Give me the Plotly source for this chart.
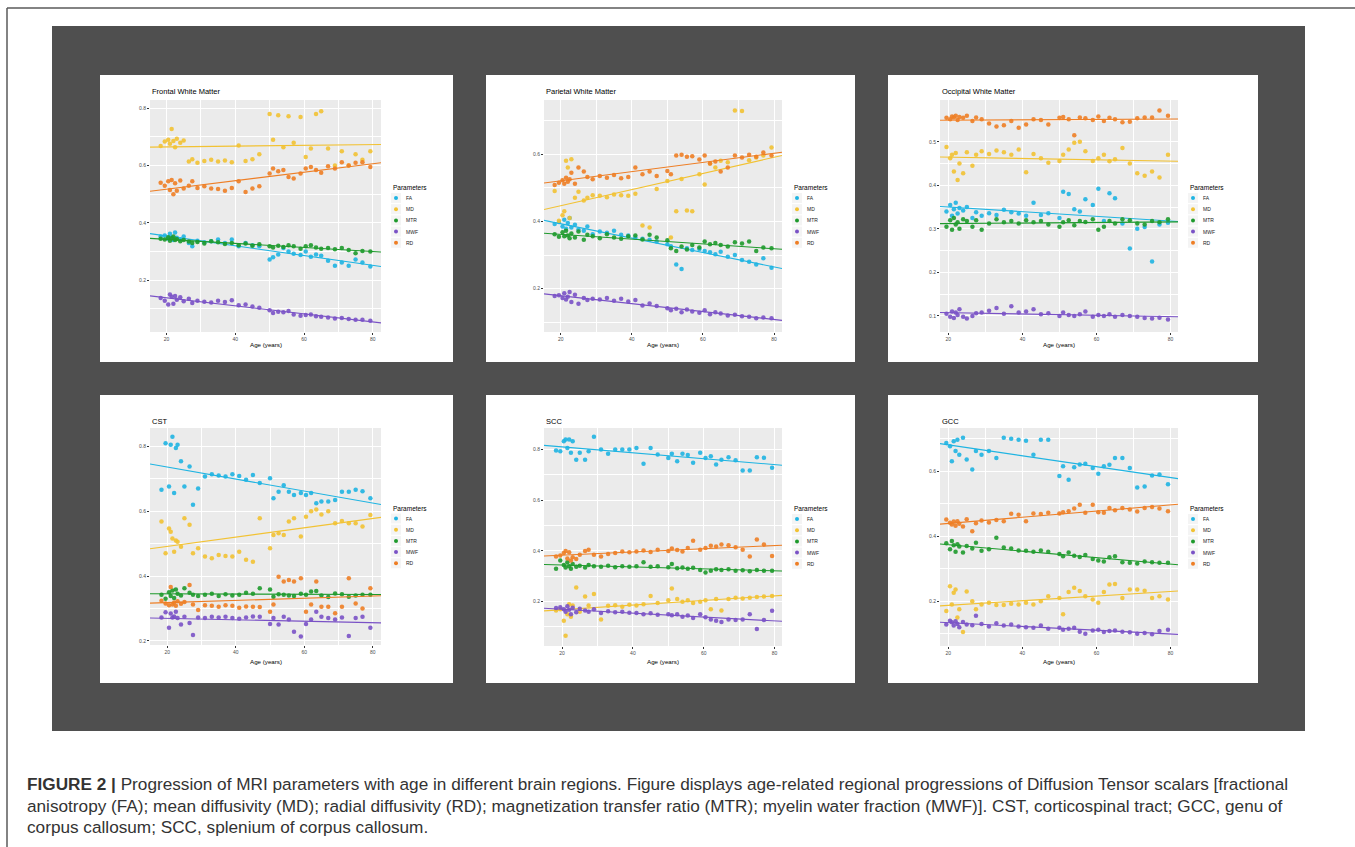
import numpy as np
import plotly.graph_objects as go

W, H = 1355, 847

# ---------------- data ----------------
ages = [18.3, 19.5, 20.5, 21.0, 21.5, 22.0, 22.5, 23.0, 24.0, 25.0,
        26.5, 27.5, 29.0, 31.0, 33.0, 35.0, 37.0, 39.0, 41.0, 43.0,
        45.0, 47.0, 50.0, 51.0, 52.5, 54.0, 55.5, 57.0, 59.0, 60.5,
        62.0, 63.5, 65.0, 67.0, 69.0, 71.0, 73.0, 75.0, 77.0, 79.3]

params = ["FA", "MD", "MTR", "MWF", "RD"]
colors = ["#1FB4E2", "#F2C233", "#1E9A2C", "#7A52C6", "#EE7E25"]

frontal_fa = [0.352, 0.356, 0.345, 0.362, 0.350, 0.340, 0.366, 0.348, 0.343, 0.352,
              0.330, 0.318, 0.338, 0.332, 0.336, 0.342, 0.330, 0.342, 0.318, 0.330,
              0.322, 0.318, 0.272, 0.280, 0.290, 0.312, 0.300, 0.292, 0.288, 0.300,
              0.282, 0.290, 0.285, 0.268, 0.250, 0.262, 0.250, 0.272, 0.262, 0.248]
frontal_md = [0.668, 0.684, 0.690, 0.676, 0.728, 0.686, 0.664, 0.694, 0.680, 0.688,
              0.614, 0.622, 0.610, 0.616, 0.620, 0.614, 0.618, 0.612, 0.670, 0.616,
              0.622, 0.640, 0.780, 0.690, 0.776, 0.664, 0.772, 0.680, 0.770, 0.630,
              0.660, 0.780, 0.790, 0.660, 0.600, 0.650, 0.600, 0.640, 0.620, 0.650]
frontal_mtr = [0.345, 0.342, 0.350, 0.338, 0.346, 0.352, 0.340, 0.344, 0.336, 0.340,
               0.335, 0.330, 0.333, 0.328, 0.336, 0.332, 0.326, 0.330, 0.322, 0.328,
               0.320, 0.325, 0.318, 0.314, 0.320, 0.316, 0.322, 0.318, 0.310, 0.318,
               0.322, 0.314, 0.310, 0.312, 0.308, 0.312, 0.305, 0.294, 0.302, 0.300]
frontal_mwf = [0.138, 0.128, 0.115, 0.150, 0.142, 0.118, 0.145, 0.132, 0.140, 0.126,
               0.135, 0.120, 0.128, 0.125, 0.122, 0.128, 0.124, 0.130, 0.112, 0.115,
               0.108, 0.104, 0.095, 0.085, 0.090, 0.088, 0.092, 0.080, 0.076, 0.078,
               0.080, 0.074, 0.072, 0.070, 0.066, 0.068, 0.064, 0.062, 0.062, 0.058]
frontal_rd = [0.540, 0.530, 0.545, 0.515, 0.550, 0.500, 0.538, 0.512, 0.548, 0.520,
              0.530, 0.545, 0.522, 0.528, 0.520, 0.518, 0.512, 0.522, 0.545, 0.508,
              0.520, 0.528, 0.572, 0.590, 0.580, 0.585, 0.560, 0.555, 0.572, 0.590,
              0.595, 0.585, 0.575, 0.598, 0.590, 0.612, 0.600, 0.610, 0.612, 0.595]

parietal_fa = [0.392, 0.398, 0.385, 0.405, 0.378, 0.395, 0.410, 0.382, 0.390, 0.376,
               0.372, 0.385, 0.362, 0.370, 0.366, 0.372, 0.360, 0.358, 0.352, 0.348,
               0.345, 0.340, 0.332, 0.326, 0.272, 0.258, 0.320, 0.315, 0.318, 0.312,
               0.308, 0.302, 0.310, 0.295, 0.300, 0.285, 0.280, 0.272, 0.290, 0.262]
parietal_md = [0.490, 0.402, 0.418, 0.430, 0.580, 0.560, 0.410, 0.585, 0.470, 0.488,
               0.462, 0.470, 0.478, 0.476, 0.472, 0.480, 0.478, 0.476, 0.482, 0.388,
               0.382, 0.496, 0.520, 0.352, 0.430, 0.526, 0.432, 0.430, 0.540, 0.510,
               0.572, 0.560, 0.580, 0.576, 0.730, 0.728, 0.582, 0.590, 0.596, 0.620]
parietal_mtr = [0.362, 0.354, 0.368, 0.356, 0.372, 0.358, 0.350, 0.364, 0.352, 0.370,
                0.345, 0.360, 0.356, 0.350, 0.362, 0.352, 0.348, 0.356, 0.358, 0.346,
                0.360, 0.352, 0.344, 0.320, 0.312, 0.325, 0.316, 0.330, 0.322, 0.340,
                0.332, 0.336, 0.330, 0.325, 0.338, 0.334, 0.340, 0.312, 0.322, 0.320]
parietal_mwf = [0.178, 0.180, 0.172, 0.186, 0.168, 0.176, 0.190, 0.160, 0.182, 0.155,
                0.172, 0.166, 0.170, 0.168, 0.172, 0.164, 0.170, 0.162, 0.166, 0.150,
                0.156, 0.148, 0.142, 0.136, 0.140, 0.130, 0.138, 0.132, 0.128, 0.136,
                0.124, 0.130, 0.126, 0.120, 0.122, 0.118, 0.116, 0.112, 0.114, 0.112]
parietal_rd = [0.508, 0.515, 0.522, 0.512, 0.530, 0.518, 0.525, 0.545, 0.512, 0.560,
               0.548, 0.532, 0.525, 0.535, 0.530, 0.538, 0.528, 0.532, 0.560, 0.540,
               0.548, 0.535, 0.550, 0.540, 0.596, 0.598, 0.592, 0.594, 0.584, 0.596,
               0.572, 0.578, 0.548, 0.560, 0.596, 0.590, 0.598, 0.592, 0.605, 0.596]

occipital_fa = [None, 0.340, 0.355, 0.330, 0.345, 0.360, 0.335, 0.348, 0.342, 0.350,
                0.325, 0.338, 0.330, 0.336, 0.332, 0.344, 0.338, 0.335, 0.330, 0.360,
                0.332, 0.336, 0.325, 0.385, 0.380, 0.345, 0.340, 0.368, 0.355, 0.392,
                0.318, 0.382, 0.370, 0.312, 0.255, 0.300, 0.304, 0.225, 0.310, 0.314]
occipital_md = [None, 0.488, 0.462, 0.470, 0.432, 0.474, 0.412, 0.450, 0.428, 0.476,
                0.445, 0.470, 0.478, 0.472, 0.480, 0.476, 0.470, 0.482, 0.430, 0.472,
                0.462, 0.452, 0.456, 0.470, 0.482, 0.498, 0.500, 0.478, 0.456, 0.462,
                0.470, 0.455, 0.460, 0.486, 0.450, 0.428, 0.422, 0.432, 0.418, 0.470]
occipital_mtr = [None, 0.305, 0.320, 0.298, 0.325, 0.310, 0.315, 0.300, 0.322, 0.318,
                 0.305, 0.320, 0.298, 0.312, 0.322, 0.315, 0.318, 0.312, 0.320, 0.315,
                 0.318, 0.310, 0.305, 0.315, 0.320, 0.308, 0.318, 0.316, 0.322, 0.298,
                 0.305, 0.318, 0.312, 0.322, 0.320, 0.312, 0.310, 0.318, 0.315, 0.322]
occipital_mwf = [None, 0.105, 0.098, 0.110, 0.095, 0.108, 0.102, 0.115, 0.098, 0.094,
                 0.100, 0.106, 0.108, 0.112, 0.118, 0.105, 0.122, 0.108, 0.110, 0.115,
                 0.104, 0.106, 0.100, 0.108, 0.102, 0.100, 0.104, 0.110, 0.098, 0.102,
                 0.100, 0.104, 0.098, 0.102, 0.100, 0.098, 0.095, 0.094, 0.096, 0.092]
occipital_rd = [None, 0.555, 0.552, 0.558, 0.556, 0.560, 0.550, 0.557, 0.555, 0.560,
                0.548, 0.556, 0.552, 0.542, 0.535, 0.538, 0.548, 0.532, 0.540, 0.552,
                0.550, 0.540, 0.555, 0.557, 0.552, 0.515, 0.556, 0.554, 0.550, 0.558,
                0.548, 0.555, 0.552, 0.545, 0.546, 0.554, 0.556, 0.556, 0.572, 0.560]

cst_fa = [0.666, 0.810, 0.676, 0.805, 0.830, 0.656, 0.795, 0.805, 0.754, 0.676,
          0.738, 0.620, 0.670, 0.707, 0.714, 0.710, 0.707, 0.714, 0.709, 0.697,
          0.712, 0.687, 0.702, 0.640, 0.660, 0.680, 0.660, 0.650, 0.656, 0.650,
          0.656, 0.625, 0.630, 0.630, 0.635, 0.660, 0.660, 0.666, 0.662, 0.640]
cst_md = [0.568, 0.470, 0.547, 0.537, 0.516, 0.475, 0.510, 0.506, 0.490, 0.578,
          0.558, 0.470, 0.486, 0.460, 0.455, 0.465, 0.462, 0.460, 0.475, 0.450,
          0.444, 0.578, 0.486, 0.527, 0.532, 0.527, 0.568, 0.578, 0.522, 0.583,
          0.600, 0.605, 0.590, 0.600, 0.563, 0.570, 0.563, 0.563, 0.553, 0.588]
cst_mtr = [0.342, 0.330, 0.350, 0.338, 0.355, 0.332, 0.358, 0.345, 0.340, 0.362,
           0.348, 0.342, 0.338, 0.342, 0.345, 0.338, 0.344, 0.340, 0.342, 0.348,
           0.345, 0.362, 0.358, 0.336, 0.344, 0.342, 0.340, 0.338, 0.345, 0.342,
           0.352, 0.354, 0.340, 0.335, 0.346, 0.344, 0.336, 0.340, 0.342, 0.342]
cst_mwf = [0.272, 0.288, 0.240, 0.284, 0.272, 0.275, 0.290, 0.270, 0.250, 0.274,
           0.255, 0.218, 0.272, 0.270, 0.274, 0.272, 0.274, 0.270, 0.268, 0.272,
           0.275, 0.274, 0.252, 0.270, 0.250, 0.274, 0.266, 0.228, 0.213, 0.252,
           0.266, 0.290, 0.274, 0.270, 0.266, 0.272, 0.215, 0.270, 0.274, 0.240]
cst_rd = [0.324, 0.315, 0.310, 0.366, 0.312, 0.318, 0.308, 0.322, 0.314, 0.320,
          0.372, 0.312, 0.295, 0.310, 0.308, 0.305, 0.310, 0.308, 0.302, 0.306,
          0.305, 0.304, 0.290, 0.312, 0.398, 0.383, 0.388, 0.383, 0.393, 0.290,
          0.312, 0.383, 0.305, 0.305, 0.285, 0.305, 0.393, 0.315, 0.300, 0.362]

scc_fa = [0.796, 0.793, 0.833, 0.840, 0.806, 0.840, 0.787, 0.833, 0.760, 0.787,
          0.760, 0.793, 0.850, 0.800, 0.783, 0.800, 0.800, 0.800, 0.806, 0.744,
          0.806, 0.780, 0.767, 0.783, 0.754, 0.783, 0.778, 0.748, 0.787, 0.767,
          0.774, 0.741, 0.760, 0.770, 0.758, 0.717, 0.717, 0.770, 0.768, 0.728]
scc_md = [0.165, 0.170, 0.125, 0.065, 0.150, 0.190, 0.140, 0.185, 0.256, 0.160,
          0.220, 0.185, 0.230, 0.130, 0.184, 0.186, 0.180, 0.188, 0.185, 0.190,
          0.222, 0.195, 0.205, 0.252, 0.210, 0.200, 0.205, 0.195, 0.200, 0.205,
          0.170, 0.210, 0.165, 0.210, 0.215, 0.212, 0.215, 0.218, 0.220, 0.222]
scc_mtr = [0.330, 0.362, 0.345, 0.335, 0.355, 0.340, 0.330, 0.348, 0.338, 0.342,
           0.335, 0.345, 0.340, 0.338, 0.342, 0.336, 0.340, 0.338, 0.340, 0.355,
           0.338, 0.340, 0.336, 0.348, 0.332, 0.335, 0.330, 0.334, 0.325, 0.315,
           0.322, 0.328, 0.325, 0.328, 0.322, 0.324, 0.320, 0.325, 0.322, 0.322]
scc_mwf = [0.175, 0.178, 0.170, 0.160, 0.182, 0.168, 0.150, 0.176, 0.158, 0.172,
           0.165, 0.160, 0.170, 0.155, 0.162, 0.158, 0.160, 0.156, 0.155, 0.150,
           0.154, 0.148, 0.150, 0.146, 0.150, 0.140, 0.145, 0.135, 0.150, 0.138,
           0.130, 0.125, 0.120, 0.130, 0.128, 0.130, 0.150, 0.092, 0.128, 0.164]
scc_rd = [0.378, 0.382, 0.392, 0.400, 0.370, 0.395, 0.362, 0.375, 0.368, 0.385,
          0.400, 0.405, 0.385, 0.378, 0.388, 0.392, 0.398, 0.395, 0.398, 0.402,
          0.396, 0.405, 0.400, 0.410, 0.404, 0.398, 0.412, 0.440, 0.405, 0.412,
          0.420, 0.418, 0.425, 0.422, 0.415, 0.405, 0.378, 0.445, 0.425, 0.380]

gcc_fa = [None, 0.687, 0.677, 0.631, 0.692, 0.662, 0.697, 0.651, 0.703, 0.636,
          0.605, 0.662, 0.651, 0.662, 0.641, 0.703, 0.700, 0.697, 0.694, 0.651,
          0.697, 0.697, 0.585, 0.615, 0.574, 0.612, 0.621, 0.623, 0.610, 0.592,
          0.615, 0.620, 0.641, 0.641, 0.610, 0.550, 0.553, 0.587, 0.590, 0.560]
gcc_md = [None, 0.170, 0.246, 0.190, 0.226, 0.236, 0.150, 0.175, 0.105, 0.230,
          0.200, 0.175, 0.190, 0.195, 0.188, 0.188, 0.192, 0.190, 0.195, 0.190,
          0.200, 0.215, 0.210, 0.160, 0.228, 0.241, 0.231, 0.215, 0.205, 0.195,
          0.228, 0.251, 0.253, 0.210, 0.236, 0.236, 0.232, 0.210, 0.215, 0.205]
gcc_mtr = [None, 0.378, 0.360, 0.385, 0.372, 0.352, 0.375, 0.368, 0.350, 0.370,
           0.362, 0.380, 0.355, 0.360, 0.395, 0.365, 0.362, 0.356, 0.355, 0.352,
           0.356, 0.352, 0.345, 0.338, 0.350, 0.340, 0.336, 0.342, 0.330, 0.325,
           0.322, 0.335, 0.338, 0.320, 0.318, 0.316, 0.322, 0.320, 0.318, 0.318]
gcc_mwf = [None, 0.128, 0.140, 0.135, 0.125, 0.138, 0.130, 0.120, 0.136, 0.128,
           0.126, 0.155, 0.130, 0.122, 0.132, 0.125, 0.128, 0.122, 0.120, 0.118,
           0.125, 0.115, 0.118, 0.112, 0.115, 0.118, 0.106, 0.100, 0.110, 0.112,
           0.105, 0.108, 0.110, 0.106, 0.104, 0.100, 0.102, 0.098, 0.108, 0.112]
gcc_rd = [None, 0.451, 0.441, 0.436, 0.445, 0.432, 0.446, 0.438, 0.430, 0.452,
          0.415, 0.440, 0.448, 0.442, 0.450, 0.446, 0.469, 0.466, 0.446, 0.470,
          0.468, 0.472, 0.470, 0.474, 0.477, 0.485, 0.497, 0.472, 0.497, 0.474,
          0.472, 0.487, 0.480, 0.487, 0.482, 0.476, 0.487, 0.490, 0.485, 0.477]

x_ticks = [20, 40, 60, 80]
titles = ["Frontal White Matter", "Parietal White Matter", "Occipital White Matter",
          "CST", "SCC", "GCC"]
region_series = [
    [frontal_fa, frontal_md, frontal_mtr, frontal_mwf, frontal_rd],
    [parietal_fa, parietal_md, parietal_mtr, parietal_mwf, parietal_rd],
    [occipital_fa, occipital_md, occipital_mtr, occipital_mwf, occipital_rd],
    [cst_fa, cst_md, cst_mtr, cst_mwf, cst_rd],
    [scc_fa, scc_md, scc_mtr, scc_mwf, scc_rd],
    [gcc_fa, gcc_md, gcc_mtr, gcc_mwf, gcc_rd],
]

# ---------------- layout (pixel geometry) ----------------
layout_cfg = [
    dict(box=(100, 75, 453, 362), plot=(150, 100, 381, 332), xr=(15.2, 82.4), yr=(0.019, 0.829), ydt=0.2),
    dict(box=(486, 75, 855, 362), plot=(544, 100, 782, 332), xr=(15.3, 82.25), yr=(0.071, 0.761), ydt=0.2),
    dict(box=(888, 75, 1258, 362), plot=(940, 100, 1178, 332), xr=(17.75, 82.0), yr=(0.063, 0.596), ydt=0.1),
    dict(box=(100, 395, 453, 683), plot=(150, 428, 381, 645), xr=(14.95, 82.4), yr=(0.187, 0.857), ydt=0.2),
    dict(box=(486, 395, 855, 683), plot=(544, 428, 782, 646), xr=(14.9, 82.1), yr=(0.025, 0.885), ydt=0.2),
    dict(box=(888, 395, 1258, 683), plot=(940, 428, 1178, 646), xr=(17.8, 82.0), yr=(0.062, 0.733), ydt=0.2),
]


def px(x):
    return x / W


def py(y):
    return 1 - y / H


FONT = "Liberation Sans"
fig = go.Figure()
shapes = []
annotations = []

# outer frame lines
shapes.append(dict(type="line", xref="paper", yref="paper", x0=px(7), x1=px(7), y0=py(8), y1=py(H + 10),
                   line=dict(color="#5a5a5a", width=1.5), layer="below"))
shapes.append(dict(type="line", xref="paper", yref="paper", x0=px(7), x1=px(W + 10), y0=py(8), y1=py(8),
                   line=dict(color="#5a5a5a", width=1.5), layer="below"))
# dark background block
shapes.append(dict(type="rect", xref="paper", yref="paper", x0=px(52), x1=px(1305), y0=py(731), y1=py(26),
                   fillcolor="#4f4f4f", line=dict(width=0), layer="below"))

for i, (cfg, series, title) in enumerate(zip(layout_cfg, region_series, titles), start=1):
    bx0, by0, bx1, by1 = cfg["box"]
    shapes.append(dict(type="rect", xref="paper", yref="paper", x0=px(bx0), x1=px(bx1), y0=py(by1), y1=py(by0),
                       fillcolor="white", line=dict(width=0), layer="below"))
    x0, y0, x1, y1 = cfg["plot"]
    sx = "" if i == 1 else str(i)
    xa, ya = "x" + sx, "y" + sx
    # ggplot grey panel background
    shapes.append(dict(type="rect", xref=xa + " domain", yref=ya + " domain", x0=0, x1=1, y0=0, y1=1,
                       fillcolor="#EBEBEB", line=dict(width=0), layer="below"))

    for k, (name, vals) in enumerate(zip(params, series)):
        if len(vals) != len(ages):
            raise ValueError(f"{title} {name}: {len(vals)} values")
        fig.add_trace(go.Scatter(x=ages, y=vals, mode="markers", xaxis=xa, yaxis=ya, name=name,
                                 showlegend=False,
                                 marker=dict(color=colors[k], size=4.5, opacity=0.9, line=dict(width=0))))
        a = np.array([ag for ag, v in zip(ages, vals) if v is not None])
        v = np.array([v for v in vals if v is not None])
        m, b = np.polyfit(a, v, 1)
        lx = np.array(cfg["xr"])
        fig.add_trace(go.Scatter(x=lx, y=m * lx + b, mode="lines", xaxis=xa, yaxis=ya, showlegend=False,
                                 hoverinfo="skip", line=dict(color=colors[k], width=1.1)))

    fig.layout["xaxis" + sx] = dict(
        domain=[px(x0), px(x1)], range=list(cfg["xr"]), anchor=ya,
        tickvals=x_ticks, ticks="outside", ticklen=2, tickwidth=0.6, tickcolor="#333333",
        tickfont=dict(family=FONT, size=5, color="#4d4d4d"),
        showgrid=True, gridcolor="white", gridwidth=0.9, zeroline=False, showline=False,
        minor=dict(dtick=10, tick0=0, showgrid=True, gridcolor="white", gridwidth=0.45),
    )
    fig.layout["yaxis" + sx] = dict(
        domain=[py(y1), py(y0)], range=list(cfg["yr"]), anchor=xa,
        dtick=cfg["ydt"], tick0=0, tickformat=".1f", ticks="outside", ticklen=2, tickwidth=0.6,
        tickcolor="#333333", tickfont=dict(family=FONT, size=5, color="#4d4d4d"),
        showgrid=True, gridcolor="white", gridwidth=0.9, zeroline=False, showline=False,
        minor=dict(dtick=cfg["ydt"] / 2, tick0=0, showgrid=True, gridcolor="white", gridwidth=0.45),
    )

    # panel title
    ty = 92 if by0 < 200 else 421
    annotations.append(dict(xref="paper", yref="paper", x=px(x0), y=py(ty), text=title, showarrow=False,
                            xanchor="left", yanchor="middle", font=dict(family=FONT, size=7.5, color="black")))
    # axis title
    ay = 345 if by0 < 200 else 661
    annotations.append(dict(xref="paper", yref="paper", x=px((x0 + x1) / 2), y=py(ay), text="Age (years)",
                            showarrow=False, xanchor="center", yanchor="middle",
                            font=dict(family=FONT, size=6.2, color="black")))
    # legend
    cy = (y0 + y1) / 2
    lx0 = x1 + 10
    annotations.append(dict(xref="paper", yref="paper", x=px(lx0), y=py(cy - 28.5), text="Parameters",
                            showarrow=False, xanchor="left", yanchor="middle",
                            font=dict(family=FONT, size=6.5, color="black")))
    for k, name in enumerate(params):
        iy = cy - 18 + 11.2 * k
        shapes.append(dict(type="rect", xref="paper", yref="paper", x0=px(lx0), x1=px(lx0 + 10),
                           y0=py(iy + 5), y1=py(iy - 5), fillcolor="#f4f4f4", line=dict(width=0), layer="below"))
        shapes.append(dict(type="circle", xref="paper", yref="paper", x0=px(lx0 + 3), x1=px(lx0 + 7),
                           y0=py(iy + 2), y1=py(iy - 2), fillcolor=colors[k], line=dict(width=0)))
        annotations.append(dict(xref="paper", yref="paper", x=px(lx0 + 13), y=py(iy), text=name,
                                showarrow=False, xanchor="left", yanchor="middle",
                                font=dict(family=FONT, size=5, color="#1a1a1a")))

# caption
caption = [
    "<b>FIGURE 2 |</b> Progression of MRI parameters with age in different brain regions. Figure displays "
    "age-related regional progressions of Diffusion Tensor scalars [fractional",
    "anisotropy (FA); mean diffusivity (MD); radial diffusivity (RD); magnetization transfer ratio (MTR); "
    "myelin water fraction (MWF)]. CST, corticospinal tract; GCC, genu of",
    "corpus callosum; SCC, splenium of corpus callosum.",
]
for j, line in enumerate(caption):
    annotations.append(dict(xref="paper", yref="paper", x=px(25), y=py(784 + 21.5 * j), text=line,
                            showarrow=False, xanchor="left", yanchor="middle",
                            font=dict(family=FONT, size=17.2, color="#333333")))

fig.update_layout(
    width=W, height=H, margin=dict(l=0, r=0, t=0, b=0),
    paper_bgcolor="white", plot_bgcolor="#EBEBEB",
    shapes=shapes, annotations=annotations, showlegend=False,
)

fig.write_html("out.html")
